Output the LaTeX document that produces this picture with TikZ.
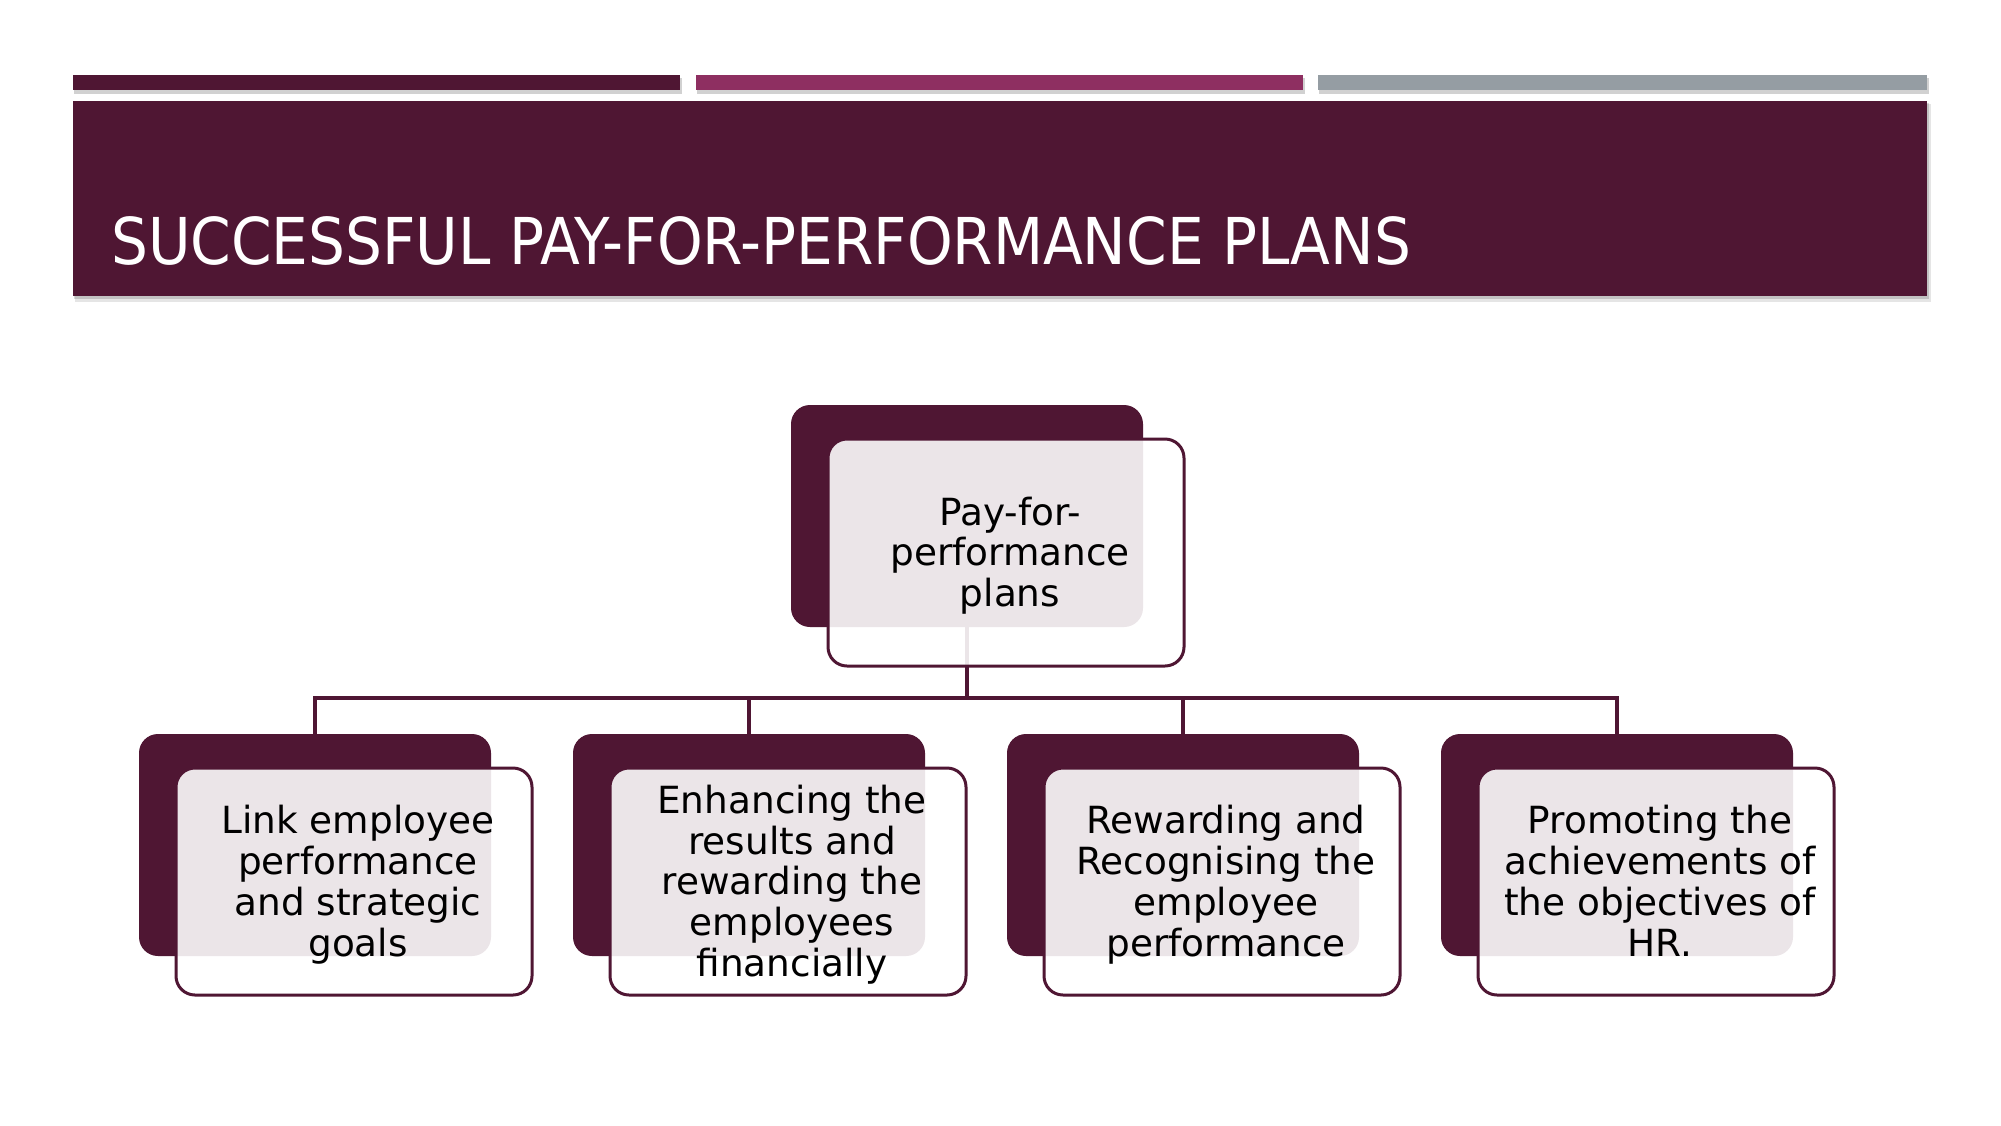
\documentclass[tikz,border=0pt]{standalone}
\usepackage{fontspec}
\setmainfont{DejaVu Sans}
\newfontfamily\titlefont{DejaVu Sans Condensed}
\usetikzlibrary{calc}
\definecolor{plum}{HTML}{4F1633}
\definecolor{berry}{HTML}{8E2F61}
\definecolor{slate}{HTML}{959DA3}
\tikzset{
  backbox/.style={fill=plum, rounded corners=19pt, minimum width=352pt, minimum height=222pt, inner sep=0pt},
  frontbox/.style={draw=plum, line width=3pt, fill=white, fill opacity=0.89, rounded corners=19pt,
     minimum width=356pt, minimum height=227pt, inner sep=0pt},
  boxtext/.style={inner sep=0pt, align=center, text=black, font=\fontsize{37.4}{40.8}\selectfont},
  link/.style={draw=plum, line width=4pt},
  bar/.style={inner sep=0pt, minimum height=15pt},
  shadowy/.style={fill=black, fill opacity=0.18}
}
\begin{document}
\begin{tikzpicture}[x=1pt,y=-1pt]
\useasboundingbox[fill=white] (0,0) rectangle (2001,1125);
% top bars with shadows
\fill[shadowy] (74,78) rectangle (682,94);
\fill[shadowy] (697,78) rectangle (1305,94);
\fill[shadowy] (1319,78) rectangle (1929,94);
\node[bar, fill=plum, minimum width=607pt, anchor=north west] (bar1) at (73,75) {};
\node[bar, fill=berry, minimum width=607pt, anchor=north west] (bar2) at (696,75) {};
\node[bar, fill=slate, minimum width=609pt, anchor=north west] (bar3) at (1318,75) {};
% title box
\fill[black, fill opacity=0.10] (75,104) rectangle (1931,302);
\fill[black, fill opacity=0.15] (74,103) rectangle (1929,299);
\node[fill=plum, minimum width=1854pt, minimum height=195pt, inner sep=0pt, anchor=north west] (titlebox) at (73,101) {};
\node[anchor=base west, inner sep=0pt, text=white, font=\titlefont\fontsize{64.6}{70}\selectfont] (title) at (111,264) {SUCCESSFUL PAY-FOR-PERFORMANCE PLANS};
% back boxes
\node[backbox] (t0) at (967,516) {};
\node[backbox] (b1) at (315,845) {};
\node[backbox] (b2) at (749,845) {};
\node[backbox] (b3) at (1183,845) {};
\node[backbox] (b4) at (1617,845) {};
% connectors
\coordinate (j) at (967,698);
\draw[link] (t0.south) -- (j);
\draw[link] (j) -| (b1.north);
\draw[link] (j) -| (b2.north);
\draw[link] (j) -| (b3.north);
\draw[link] (j) -| (b4.north);
% front boxes
\node[frontbox] (f0) at (1006,552.5) {};
\node[frontbox] (c1) at (354,881.5) {};
\node[frontbox] (c2) at (788,881.5) {};
\node[frontbox] (c3) at (1222,881.5) {};
\node[frontbox] (c4) at (1656,881.5) {};
% texts
\node[boxtext] (f0t) at ($(f0.center)+(4,3)$) {Pay-for-\\performance\\plans};
\node[boxtext] (c1t) at ($(c1.center)+(4,3)$) {Link employee\\performance\\and strategic\\goals};
\node[boxtext] (c2t) at ($(c2.center)+(4,3)$) {Enhancing the\\results and\\rewarding the\\employees\\financially};
\node[boxtext] (c3t) at ($(c3.center)+(4,3)$) {Rewarding and\\Recognising the\\employee\\performance};
\node[boxtext] (c4t) at ($(c4.center)+(4,3)$) {Promoting the\\achievements of\\the objectives of\\HR.\vphantom{g}};
\end{tikzpicture}
\end{document}
